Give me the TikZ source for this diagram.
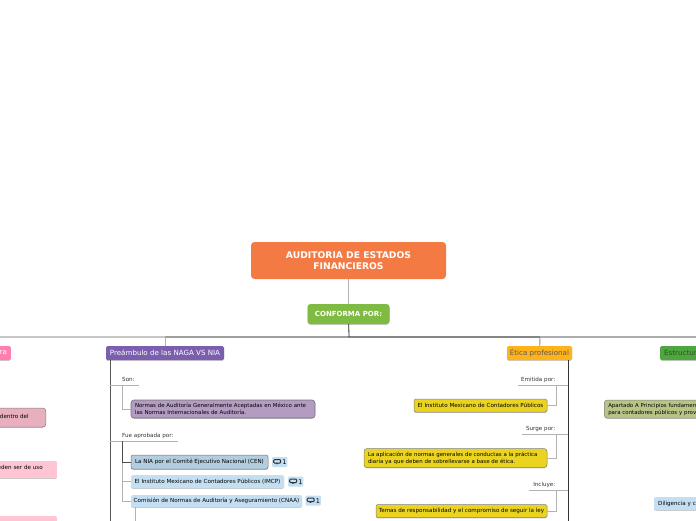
\documentclass[tikz,border=0pt]{standalone}
\usepackage{fontspec}
\setmainfont{DejaVu Sans}
\usepackage{xcolor}
\usetikzlibrary{shadows}
\definecolor{naranjaT}{HTML}{F47A43}
\definecolor{verdeC}{HTML}{7FBA42}
\definecolor{moradoP}{HTML}{7B5FAE}
\definecolor{moradoN}{HTML}{B39BC2}
\definecolor{azulN}{HTML}{B3CDE0}
\definecolor{azulC}{HTML}{C5DFF2}
\definecolor{ambarE}{HTML}{FFB31A}
\definecolor{amarilloN}{HTML}{EBD420}
\definecolor{rosaR}{HTML}{FF80B0}
\definecolor{rosaN}{HTML}{E8B0BE}
\definecolor{rosaC}{HTML}{FFC5D3}
\definecolor{verdeE}{HTML}{4FA540}
\definecolor{olivaA}{HTML}{B8C486}
\newcommand{\iconoNota}{\tikz[baseline=0pt,x=1pt,y=1pt]{\draw[line width=1pt,black!80] (0,1.4) -- (7,1.4) -- (7,5) -- (0,5) -- cycle; \draw[line width=0.8pt,black!80] (4,1.4) -- (4,0) -- (2.4,1.4);}}
\tikzset{
	caja/.style={rectangle, rounded corners=1.5pt, inner sep=0pt, font=\fontsize{5.6}{7}\selectfont, drop shadow={shadow xshift=0pt, shadow yshift=-0.8pt, fill=black!35, opacity=0.6}},
	doble/.style={font=\fontsize{5.45}{7}\selectfont, align=left, rounded corners=3pt},
	tema/.style={caja, text=white, font=\fontsize{7.1}{8}\selectfont, minimum height=14pt},
	etiqueta/.style={inner sep=0pt, font=\fontsize{5.6}{6}\selectfont, text=black!80, minimum height=10pt},
	ramal/.style={draw=black!30, line width=0.9pt},
	eje/.style={draw=black!65, line width=1pt},
	nota/.style={rectangle, fill=azulC, rounded corners=1pt, inner sep=1pt, minimum height=10pt, font=\fontsize{6.5}{7}\selectfont}
}
\begin{document}
\begin{tikzpicture}[x=1pt, y=-1pt]
	\useasboundingbox (0,0) rectangle (696,520);

	% Raiz
	\node[rectangle, fill=naranjaT, rounded corners=3.5pt, text=white, align=center, minimum width=195pt, minimum height=37pt, inner sep=0pt, font=\bfseries\fontsize{9.2}{11.5}\selectfont] (raiz) at (348.5,260.5) {AUDITORIA DE ESTADOS\\FINANCIEROS};
	\node[caja, fill=verdeC, text=white, minimum width=82pt, minimum height=20pt, rounded corners=3pt, font=\bfseries\fontsize{7}{8}\selectfont] (conforma) at (348.5,314) {CONFORMA POR:};

	% Linea general
	\coordinate (troncal) at (349,337);
	\coordinate (extizq) at (-2,337);
	\coordinate (extder) at (698,337);
	\coordinate (bajaP) at (165,337);
	\coordinate (bajaE) at (540,337);
	\draw[ramal, line width=1.2pt, draw=black!22] (extizq) -- (bajaP);
	\draw[ramal, line width=1.2pt, draw=black!38] (bajaP) -- (troncal);
	\draw[ramal, line width=1.2pt, draw=black!48] (troncal) -- (bajaE);
	\draw[ramal, line width=1.2pt, draw=black!32] (bajaE) -- (extder);
	\draw[ramal] (raiz) -- (conforma);
	\draw[eje, draw=black!85, line width=0.8pt] (conforma) -- (troncal);

	% Temas
	\node[tema, fill=rosaR, anchor=east, minimum width=14pt, align=right] (estructura) at (11,353) {ra\hspace*{1pt}};
	\node[tema, fill=moradoP, minimum width=118pt] (preambulo) at (165,353) {Preámbulo de las NAGA VS NIA};
	\node[tema, fill=ambarE, text=black!65, minimum width=65pt] (etica) at (539.5,353) {Ética profesional};
	\node[tema, fill=verdeE, text=verdeE!50!black, anchor=west, minimum width=60pt, text width=52pt, align=left] (estructurader) at (660,353) {Estructur};
	\draw[ramal] (bajaP) -- (preambulo);
	\draw[ramal, draw=black!45] (bajaE) -- (etica);

	% Preambulo
	\coordinate (finP) at (110,522);
	\draw[eje] (preambulo.south -| finP) -- (finP);
	\node[etiqueta, anchor=south west, minimum width=29pt, text width=29pt, align=left] (son) at (110,385) {\hspace*{12pt}Son:};
	\node[etiqueta, anchor=south west, minimum width=68pt, text width=68pt, align=left] (aprobada) at (110,441) {\hspace*{12pt}Fue aprobada por:};
	\draw[ramal] (son.south west) -- (son.south east);
	\draw[ramal] (aprobada.south west) -- (aprobada.south east);
	\node[caja, doble, fill=moradoN, draw=black!55, line width=0.6pt, minimum width=184pt, minimum height=18pt, text width=176pt] (normas) at (223,409) {Normas de Auditoría Generalmente Aceptadas en México ante\\las Normas Internacionales de Auditoría.};
	\node[caja, fill=azulN, draw=black!55, line width=0.5pt, minimum width=137pt, minimum height=14pt, rounded corners=2pt] (cen) at (199.5,462) {La NIA por el Comité Ejecutivo Nacional (CEN)};
	\node[caja, fill=azulC, minimum width=153pt, minimum height=13pt] (imcp) at (207.5,481.5) {El Instituto Mexicano de Contadores Públicos (IMCP)};
	\node[caja, fill=azulC, minimum width=171pt, minimum height=12pt] (cnaa) at (216.5,501) {Comisión de Normas de Auditoría y Aseguramiento (CNAA)};
	\node[nota, anchor=west] (notacen) at (272,462) {\iconoNota\,1};
	\node[nota, anchor=west] (notaimcp) at (288,481.5) {\iconoNota\,1};
	\node[nota, anchor=west] (notacnaa) at (305.5,500.5) {\iconoNota\,1};
	\coordinate (subcnaa) at (135,522);
	\draw[ramal] (122.5,385) |- (normas.west);
	\draw[ramal] (122.5,441) |- (cnaa.west);
	\draw[ramal] (122.5,441) |- (imcp.west);
	\draw[ramal, draw=black!70] (122.5,441) |- (cen.west);
	\draw[ramal] (cnaa.south -| subcnaa) -- (subcnaa);

	% Etica
	\coordinate (finE) at (568,522);
	\draw[eje, draw=black!80] (etica.south -| finE) -- (finE);
	\node[etiqueta, anchor=south east, minimum width=50pt, text width=50pt, align=right] (emitida) at (568,385) {Emitida por:\hspace*{12.5pt}};
	\node[etiqueta, anchor=south east, minimum width=46pt, text width=46pt, align=right] (surge) at (568,434.5) {Surge por:\hspace*{12.5pt}};
	\node[etiqueta, anchor=south east, minimum width=39pt, text width=39pt, align=right] (incluye) at (568,490.5) {Incluye:\hspace*{12.5pt}};
	\draw[ramal] (emitida.south west) -- (emitida.south east);
	\draw[ramal] (surge.south west) -- (surge.south east);
	\draw[ramal] (incluye.south west) -- (incluye.south east);
	\node[caja, fill=amarilloN, draw=black!50, line width=0.5pt, minimum width=133pt, minimum height=13pt] (imcpe) at (480.5,405.5) {El Instituto Mexicano de Contadores Públicos};
	\node[caja, doble, fill=amarilloN, draw=black!50, line width=0.5pt, minimum width=183pt, minimum height=19pt, text width=175pt] (aplicacion) at (455.5,458) {La aplicación de normas generales de conductas a la práctica\\diaria ya que deben de sobrellevarse a base de ética.};
	\node[caja, fill=amarilloN, draw=black!50, line width=0.5pt, minimum width=171pt, minimum height=13pt] (temas) at (461.5,511) {Temas de responsabilidad y el compromiso de seguir la ley};
	\draw[ramal] (556,385) |- (imcpe.east);
	\draw[ramal] (556,434.5) |- (aplicacion.east);
	\draw[ramal] (556,490.5) |- (temas.east);

	% Recortados a la izquierda
	\node[caja, fill=rosaN, draw=black!50, line width=0.5pt, anchor=east, minimum width=60pt, minimum height=19pt, text width=52pt, align=right, rounded corners=3pt] (dentro) at (46,417.5) {\raisebox{3pt}{dentro del\hspace{13pt}}};
	\node[caja, fill=rosaC, anchor=east, minimum width=70pt, minimum height=17pt, text width=62pt, align=right, rounded corners=1pt] (usoa) at (57,469.5) {\raisebox{4.5pt}{eden ser de uso\hspace{10pt}}};
	\node[caja, fill=rosaC, anchor=north east, minimum width=70pt, minimum height=17pt, rounded corners=1pt] (usob) at (57,516) {};

	% Recortados a la derecha
	\node[caja, doble, fill=olivaA, draw=black!50, line width=0.5pt, anchor=west, minimum width=130pt, minimum height=18pt, text width=122pt] (apartado) at (604,409) {Apartado A Principios fundamen\\para contadores públicos y prov};
	\node[caja, fill=azulC, anchor=west, minimum width=70pt, minimum height=13pt, text width=62pt, align=left] (diligencia) at (654,503.5) {Diligencia y c};
\end{tikzpicture}
\end{document}
